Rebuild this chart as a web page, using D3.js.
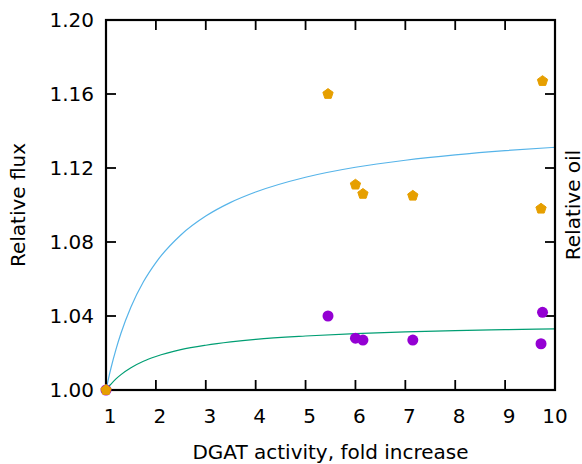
<!DOCTYPE html>
<html>
<head>
<meta charset="utf-8">
<script src="https://cdn.jsdelivr.net/npm/d3@7"></script>
<style>
  html, body { margin: 0; padding: 0; background: #fff; }
  svg { display: block; }
  text { font-family: "DejaVu Sans", sans-serif; fill: #000; }
</style>
</head>
<body>
<svg id="chart" width="582" height="464"></svg>
<script>
// Measured samples: DGAT activity (fold increase) with relative oil and relative flux
const dgatActivity = [1, 5.45, 6.0, 6.15, 7.15, 9.72, 9.75];
const relativeOil  = [1.000, 1.160, 1.111, 1.106, 1.105, 1.098, 1.167];
const relativeFlux = [1.000, 1.040, 1.028, 1.027, 1.027, 1.025, 1.042];

// Model response curves, sampled along the activity axis
const curveActivity = [1, 1.05, 1.1, 1.2, 1.3, 1.5, 1.75, 2, 2.5, 3, 3.5, 4, 5, 6, 7, 8, 9, 10];
const upperCurve = [1.0000, 1.0062, 1.0119, 1.0220, 1.0307, 1.0449, 1.0585, 1.0689, 1.0838, 1.0940,
                    1.1014, 1.1070, 1.1150, 1.1204, 1.1242, 1.1271, 1.1294, 1.1312];
const lowerCurve = [1.0000, 1.0017, 1.0032, 1.0060, 1.0083, 1.0120, 1.0155, 1.0181, 1.0218, 1.0242,
                    1.0260, 1.0274, 1.0292, 1.0305, 1.0314, 1.0321, 1.0326, 1.0330];

// Axis ticks
const xTicks = [1, 2, 3, 4, 5, 6, 7, 8, 9, 10];
const yTicks = [1.00, 1.04, 1.08, 1.12, 1.16, 1.20];

const svg = d3.select("#chart");
const plotLeft = 106, plotRight = 555, plotTop = 20, plotBottom = 390;

const x = d3.scaleLinear().domain([1, 10]).range([plotLeft, plotRight]);
const y = d3.scaleLinear().domain([1.00, 1.20]).range([plotBottom, plotTop]);

const tickLen = 10;
const axisColor = "#000";

// Model curves
const line = d3.line()
  .x(d => x(d[0]))
  .y(d => y(d[1]))
  .curve(d3.curveMonotoneX);

svg.append("path")
  .datum(curveActivity.map((a, i) => [a, upperCurve[i]]))
  .attr("d", line)
  .attr("fill", "none")
  .attr("stroke", "#56b4e9")
  .attr("stroke-width", 1.2);

svg.append("path")
  .datum(curveActivity.map((a, i) => [a, lowerCurve[i]]))
  .attr("d", line)
  .attr("fill", "none")
  .attr("stroke", "#009e73")
  .attr("stroke-width", 1.2);

// Inward ticks on all four sides (interior ones only)
const g = svg.append("g").attr("stroke", axisColor).attr("stroke-width", 1.8);
xTicks.slice(1, -1).forEach(t => {
  g.append("line").attr("x1", x(t)).attr("x2", x(t)).attr("y1", plotBottom).attr("y2", plotBottom - tickLen);
  g.append("line").attr("x1", x(t)).attr("x2", x(t)).attr("y1", plotTop).attr("y2", plotTop + tickLen);
});
yTicks.slice(1, -1).forEach(t => {
  g.append("line").attr("x1", plotLeft).attr("x2", plotLeft + tickLen).attr("y1", y(t)).attr("y2", y(t));
  g.append("line").attr("x1", plotRight).attr("x2", plotRight - tickLen).attr("y1", y(t)).attr("y2", y(t));
});

// Frame
svg.append("rect")
  .attr("x", plotLeft).attr("y", plotTop)
  .attr("width", plotRight - plotLeft).attr("height", plotBottom - plotTop)
  .attr("fill", "none")
  .attr("stroke", axisColor)
  .attr("stroke-width", 2.2);

// Tick labels
const fontSize = 20;
svg.append("g").selectAll("text")
  .data(xTicks)
  .join("text")
  .attr("x", d => x(d) + (String(d).length === 1 ? 4 : 0))
  .attr("y", plotBottom + 33)
  .attr("text-anchor", "middle")
  .attr("font-size", fontSize)
  .text(d => String(d));

svg.append("g").selectAll("text")
  .data(yTicks)
  .join("text")
  .attr("x", plotLeft - 12)
  .attr("y", d => y(d) + 7.3)
  .attr("text-anchor", "end")
  .attr("font-size", fontSize)
  .text(d => d.toFixed(2));

// Axis titles
svg.append("text")
  .attr("x", (plotLeft + plotRight) / 2)
  .attr("y", 459)
  .attr("text-anchor", "middle")
  .attr("font-size", fontSize)
  .text("DGAT activity, fold increase");

svg.append("text")
  .attr("transform", `translate(25, ${(plotTop + plotBottom) / 2}) rotate(-90)`)
  .attr("text-anchor", "middle")
  .attr("font-size", fontSize)
  .text("Relative flux");

svg.append("text")
  .attr("transform", `translate(580, ${(plotTop + plotBottom) / 2}) rotate(-90)`)
  .attr("text-anchor", "middle")
  .attr("font-size", fontSize)
  .text("Relative oil");

// Data points: flux as circles, oil as pentagons drawn on top
const pentagon = (cx, cy, r) => {
  const pts = d3.range(5).map(k => {
    const ang = -Math.PI / 2 + k * 2 * Math.PI / 5;
    return [cx + r * Math.cos(ang), cy + r * Math.sin(ang)];
  });
  return "M" + pts.map(p => p.join(",")).join("L") + "Z";
};

svg.append("g").selectAll("circle")
  .data(dgatActivity.map((a, i) => [a, relativeFlux[i]]))
  .join("circle")
  .attr("cx", d => x(d[0]))
  .attr("cy", d => y(d[1]))
  .attr("r", 5.5)
  .attr("fill", "#9400d3");

svg.append("g").selectAll("path")
  .data(dgatActivity.map((a, i) => [a, relativeOil[i]]))
  .join("path")
  .attr("d", d => pentagon(x(d[0]), y(d[1]), 5.4))
  .attr("fill", "#e69f00")
  .attr("stroke", "#e69f00")
  .attr("stroke-width", 1)
  .attr("stroke-linejoin", "round");
</script>
</body>
</html>
